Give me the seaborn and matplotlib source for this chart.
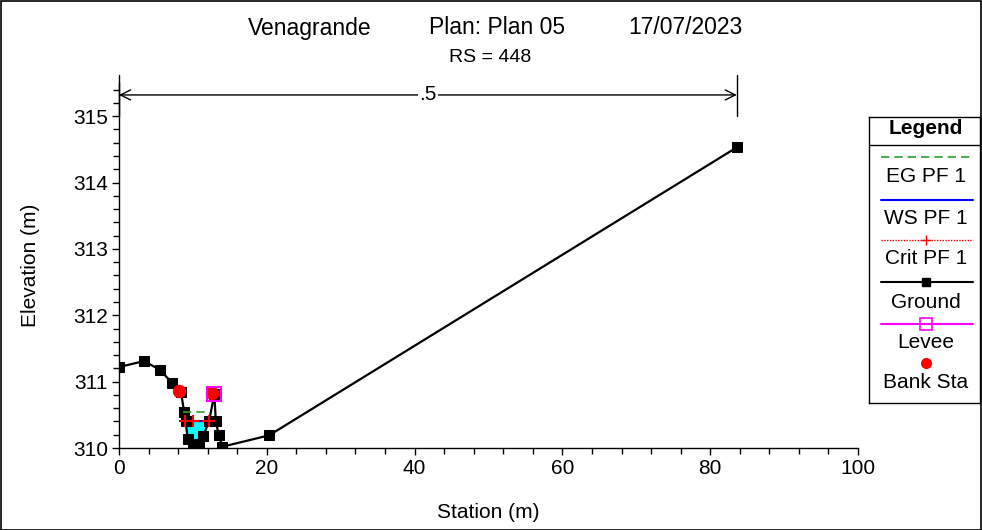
import numpy as np
import matplotlib
matplotlib.use("Agg")
import matplotlib.pyplot as plt
from matplotlib.ticker import MultipleLocator
from matplotlib.patches import Rectangle
import seaborn as sns
import pandas as pd

# ---- data ----
ground_sta = [0.0, 3.4, 5.5, 7.2, 8.4, 8.8, 9.0, 9.3, 10.0, 10.8, 11.4, 12.2, 12.9, 13.1, 13.5, 14.0, 20.3, 83.6]
ground_elev = [311.22, 311.31, 311.18, 310.98, 310.84, 310.55, 310.41, 310.14, 310.04, 310.06, 310.18, 310.41,
               310.81, 310.41, 310.19, 310.02, 310.19, 314.53]
ws_sta = [8.9, 12.2]
ws_elev = [310.40, 310.40]
crit_sta = [8.9, 10.0, 12.2]
crit_elev = [310.41, 310.41, 310.41]
eg_sta = [8.7, 12.0]
eg_elev = [310.55, 310.55]
bank_sta = [8.1, 12.6]
bank_elev = [310.86, 310.83]
levee_sta = [12.8]
levee_elev = [310.81]
manning_n = ".5"
manning_range = [0.0, 83.6]
manning_elev = 315.32

title_parts = ["Venagrande", "Plan: Plan 05", "17/07/2023"]
subtitle = "RS = 448"
legend_labels = ["EG PF 1", "WS PF 1", "Crit PF 1", "Ground", "Levee", "Bank Sta"]

sns.set_theme(style="ticks")
plt.rcParams['font.family'] = ['Liberation Sans', 'DejaVu Sans']
plt.rcParams['text.color'] = 'black'
plt.rcParams['axes.labelcolor'] = 'black'
plt.rcParams['xtick.color'] = 'black'
plt.rcParams['ytick.color'] = 'black'

W, H = 982, 530
fig = plt.figure(figsize=(W / 100, H / 100), dpi=100)
fig.patch.set_facecolor("white")
ax = fig.add_axes([119 / W, 1 - 448 / H, (858 - 119) / W, (448 - 83) / H])
ax.set_facecolor("white")

# water fill
gs = np.array(ground_sta)
ge = np.array(ground_elev)
mask = (gs >= 9.0) & (gs <= 12.2)
ax.fill_between(gs[mask], ge[mask], ws_elev[0], color="#00ffff", zorder=1, lw=0)

df_g = pd.DataFrame({"sta": ground_sta, "elev": ground_elev})
sns.lineplot(data=df_g, x="sta", y="elev", sort=False, estimator=None, color="black", lw=1.6,
             marker="s", markersize=6.8, markeredgecolor="black", ax=ax, zorder=3)

ax.plot(eg_sta, eg_elev, color="#2ca02c", ls=(0, (5, 3)), lw=1.2, zorder=4)
ax.plot(ws_sta, ws_elev, color="#0000ff", lw=1.5, zorder=4)
ax.plot(crit_sta, crit_elev, color="#ff0000", ls=(0, (1, 1)), lw=1.5, marker="+", markersize=9,
        markeredgewidth=1.5, zorder=5)

sns.scatterplot(x=bank_sta, y=bank_elev, color="#ff0000", s=80, edgecolor="#ff0000", ax=ax, zorder=6)
ax.plot(levee_sta, levee_elev, ls="none", marker="s", markersize=10, mfc="none", mec="#ff00ff",
        mew=1.5, zorder=7)

# manning arrow
ax.annotate("", xy=(manning_range[0], manning_elev), xytext=(manning_range[1], manning_elev),
            arrowprops=dict(arrowstyle="<->", color="black", lw=1, mutation_scale=18,
                            shrinkA=0, shrinkB=0), annotation_clip=False)
for xv in manning_range:
    ax.plot([xv, xv], [315.0, 315.62], color="black", lw=1, clip_on=False)
ax.text(sum(manning_range) / 2, manning_elev, manning_n, ha="center", va="center", fontsize=15,
        bbox=dict(facecolor="white", edgecolor="none", pad=1))

ax.set_xlim(0, 100)
ax.set_ylim(310, 315.5)
ax.xaxis.set_major_locator(MultipleLocator(20))
ax.xaxis.set_minor_locator(MultipleLocator(4))
ax.yaxis.set_major_locator(MultipleLocator(1))
ax.yaxis.set_minor_locator(MultipleLocator(0.2))
ax.set_yticks([310, 311, 312, 313, 314, 315])
ax.tick_params(axis="both", which="major", length=5, width=1, labelsize=15, pad=3, color="black")
ax.tick_params(axis="both", which="minor", length=4, width=1, color="black")
for s in ["top", "right"]:
    ax.spines[s].set_visible(False)
for s in ["left", "bottom"]:
    ax.spines[s].set_color("black")
    ax.spines[s].set_linewidth(1)
ax.set_xlabel("Station (m)", fontsize=15, labelpad=18)
ax.set_ylabel("Elevation (m)", fontsize=15, labelpad=24)
ax.grid(False)

# titles
fig.text(310 / W, 1 - 28 / H, title_parts[0], ha="center", va="center", fontsize=16.5)
fig.text(497 / W, 1 - 28 / H, title_parts[1], ha="center", va="center", fontsize=16.5)
fig.text(685 / W, 1 - 28 / H, title_parts[2], ha="center", va="center", fontsize=16.5)
fig.text(490 / W, 1 - 58 / H, subtitle, ha="center", va="center", fontsize=14)

# figure border
fig.add_artist(Rectangle((0.5 / W, 0.5 / H), 1 - 1.5 / W, 1 - 1.5 / H, transform=fig.transFigure,
                         fill=False, edgecolor="black", lw=1.2))

# legend panel
lx0, lx1, ly0, ly1 = 869, 980, 117, 403
lax = fig.add_axes([lx0 / W, 1 - ly1 / H, (lx1 - lx0) / W, (ly1 - ly0) / H])
lax.set_xlim(lx0, lx1)
lax.set_ylim(ly1, ly0)
lax.set_xticks([])
lax.set_yticks([])
for s in lax.spines.values():
    s.set_color("black")
    s.set_linewidth(1)
lax.set_facecolor("white")
lax.axhline(145, color="black", lw=1)
fs = 15
lax.text(926, 129, "Legend", ha="center", va="center", fontsize=fs, fontweight="bold")
a, b, c = 881, 973, 926
lax.plot([a, b], [157, 157], color="#2ca02c", ls=(0, (5, 3)), lw=1.2)
lax.text(c, 177, legend_labels[0], ha="center", va="center", fontsize=fs)
lax.plot([a, b], [200, 200], color="#0000ff", lw=1.5)
lax.text(c, 218, legend_labels[1], ha="center", va="center", fontsize=fs)
lax.plot([a, b], [240, 240], color="#ff0000", ls=(0, (1, 1)), lw=1)
lax.plot([c], [240], color="#ff0000", marker="+", markersize=7, mew=1)
lax.text(c, 259, legend_labels[2], ha="center", va="center", fontsize=fs)
lax.plot([a, b], [282, 282], color="black", lw=1.5)
lax.plot([c], [282], color="black", marker="s", markersize=6)
lax.text(c, 302, legend_labels[3], ha="center", va="center", fontsize=fs)
lax.plot([a, b], [324, 324], color="#ff00ff", lw=1.5)
lax.plot([c], [324], ls="none", marker="s", markersize=8, mfc="none", mec="#ff00ff", mew=1.2)
lax.text(c, 343, legend_labels[4], ha="center", va="center", fontsize=fs)
lax.plot([c], [363], ls="none", marker="o", markersize=7, color="#ff0000")
lax.text(c, 383, legend_labels[5], ha="center", va="center", fontsize=fs)

fig.savefig("out.png", dpi=100, facecolor="white")
